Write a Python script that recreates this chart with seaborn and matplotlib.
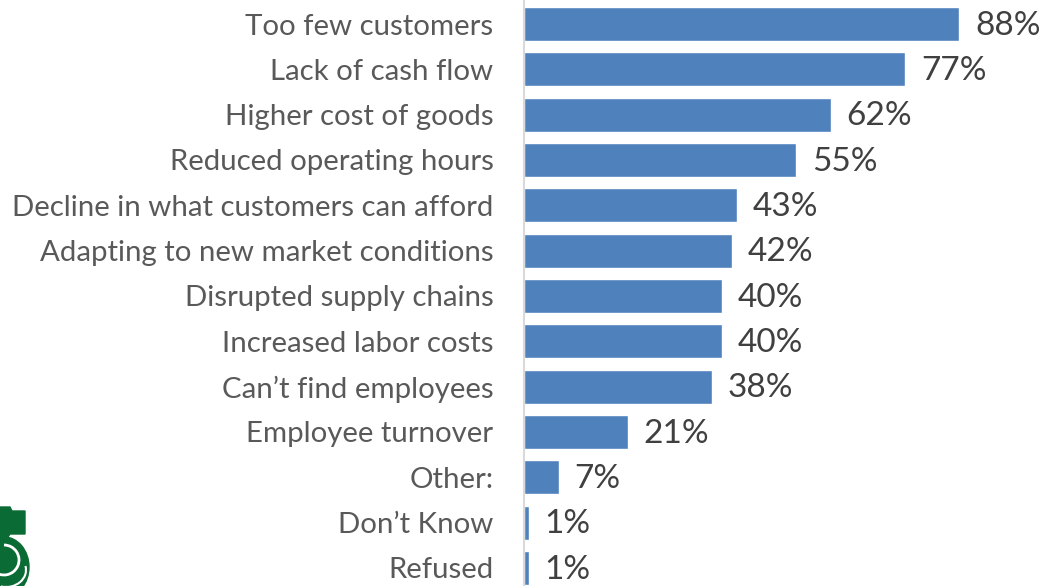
import matplotlib
matplotlib.use("Agg")
import matplotlib.pyplot as plt
from matplotlib.patches import Polygon, Ellipse, Arc
import seaborn as sns
import pandas as pd

categories = [
    "Too few customers",
    "Lack of cash flow",
    "Higher cost of goods",
    "Reduced operating hours",
    "Decline in what customers can afford",
    "Adapting to new market conditions",
    "Disrupted supply chains",
    "Increased labor costs",
    "Can\u2019t find employees",
    "Employee turnover",
    "Other:",
    "Don\u2019t Know",
    "Refused",
]
values = [88, 77, 62, 55, 43, 42, 40, 40, 38, 21, 7, 1, 1]
value_labels = ["88%", "77%", "62%", "55%", "43%", "42%", "40%", "40%", "38%", "21%", "7%", "1%", "1%"]

df = pd.DataFrame({"category": categories, "value": values})

sns.set_theme(style="white")
plt.rcParams["font.family"] = ["Lato", "DejaVu Sans"]

W, H = 1045, 586
fig = plt.figure(figsize=(W / 100, H / 100), dpi=100)
ax = fig.add_axes([524 / W, 0, 1 - 524 / W, 1])

sns.barplot(data=df, y="category", x="value", orient="h", color="#4F81BD",
            saturation=1, width=0.75, ax=ax)

ax.set_xlim(0, 105.3)
ax.set_ylim(12.40, -0.53)

for i, (v, lab) in enumerate(zip(values, value_labels)):
    ax.text(v + 3.2, i + 0.04, lab, va="center", ha="left", fontsize=24, color="#404040")

ax.set_xlabel("")
ax.set_ylabel("")
ax.set_xticks([])
ax.tick_params(axis="y", length=0, pad=22, labelsize=21.2, labelcolor="#595959")
for s in ["top", "right", "bottom"]:
    ax.spines[s].set_visible(False)
ax.spines["left"].set_color("#D9D9D9")
ax.spines["left"].set_linewidth(1.5)

# corner emblem (partially cropped at the left edge)
green = "#0B6B35"
def px(x, y):
    return (x / W, 1 - y / H)

top = Polygon([px(-2, 507), px(10, 507), px(12, 511), px(25, 511), px(25, 534),
               px(10, 534), px(8, 537), px(-2, 537)],
              closed=True, transform=fig.transFigure, facecolor=green,
              edgecolor=green, linewidth=1)
fig.patches.append(top)
body = Ellipse(px(4, 567), 50 / W, 60 / H, transform=fig.transFigure,
               facecolor=green, edgecolor=green)
fig.patches.append(body)
swirl = Arc(px(4, 560), 30 / W, 30 / H, theta1=-120, theta2=90,
            transform=fig.transFigure, color="white", linewidth=2)
fig.patches.append(swirl)
swirl2 = Arc(px(6, 570), 40 / W, 34 / H, theta1=-100, theta2=20,
             transform=fig.transFigure, color="white", linewidth=1.5)
fig.patches.append(swirl2)

fig.savefig("out.png", dpi=100)
